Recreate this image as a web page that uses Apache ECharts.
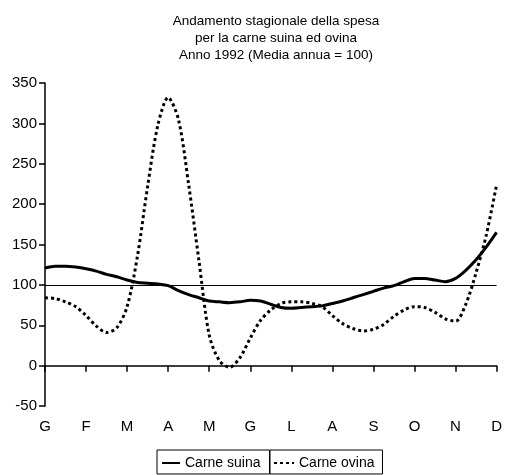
<!DOCTYPE html>
<html><head><meta charset="utf-8">
<script src="https://cdn.jsdelivr.net/npm/echarts@6/dist/echarts.min.js"></script>
<style>html,body{margin:0;padding:0;background:#fff}#c{width:505px;height:475px}</style>
</head><body><div id="c"></div>
<script>
const months = ['G','F','M','A','M','G','L','A','S','O','N','D'];
// positions in months (quarter-month resolution)
const xPos = [0,0.25,0.5,0.75,1,1.25,1.5,1.75,2,2.25,2.5,2.75,3,3.25,3.5,3.75,4,4.25,4.5,4.75,5,5.25,5.5,5.75,6,6.25,6.5,6.75,7,7.25,7.5,7.75,8,8.25,8.5,8.75,9,9.25,9.5,9.75,10,10.25,10.5,10.75,11];
const suina = [121,123,123,122,120,117,113,110,106,103,102,101,99,93,88,84,80,79,78,79,81,80,76,72,71,72,73,74,77,80,84,88,92,96,99,104,108,108,106,104,108,118,131,147,165];
const ovina = [84,83,79,73,62,49,41,47,73,135,222,298,332,305,224,130,38,6,-2,10,34,56,69,77,79,79,77,73,62,52,46,43,45,51,61,69,73,72,66,58,55,76,115,162,224];
const yTicks = {min:-50, max:350, interval:50};
const refValue = 100;

const chart = echarts.init(document.getElementById('c'));
const F = 'Liberation Sans, Arial, sans-serif';
const legendCommon = {top:450, itemGap:0, borderColor:'#000', borderWidth:1, itemHeight:10,
  itemStyle:{opacity:0},
  textStyle:{fontFamily:F, fontSize:14, color:'#000'}};
chart.setOption({
  animation:false,
  title:{
    text:'Andamento stagionale della spesa\nper la carne suina ed ovina\nAnno 1992 (Media annua = 100)',
    left:271, top:8, textAlign:'center',
    textStyle:{fontFamily:F, fontSize:13.5, fontWeight:'normal', color:'#000', lineHeight:17}
  },
  grid:{left:45, right:7, top:83, bottom:69},
  legend:[
    Object.assign({data:['Carne suina'], left:157, padding:[6,9,4,4], itemWidth:18}, legendCommon),
    Object.assign({data:['Carne ovina'], left:270, padding:[6,8,4,3], itemWidth:20}, legendCommon)
  ],
  xAxis:{
    type:'value', min:0, max:11, interval:1,
    axisLine:{lineStyle:{color:'#000', width:1.5}},
    axisTick:{show:true, length:6, lineStyle:{color:'#000', width:1.5}},
    axisLabel:{fontFamily:F, fontSize:15, color:'#000', margin:13,
      formatter:v=>months[Math.round(v)]},
    splitLine:{show:false}
  },
  yAxis:{
    type:'value', min:yTicks.min, max:yTicks.max, interval:yTicks.interval,
    axisLine:{show:true, lineStyle:{color:'#000', width:1.5}},
    axisTick:{show:true, length:6, lineStyle:{color:'#000', width:1.5}},
    axisLabel:{fontFamily:F, fontSize:15, color:'#000', margin:8},
    splitLine:{show:false}
  },
  series:[
    {name:'Carne suina', type:'line', smooth:0.3, symbol:'none',
     data:xPos.map((x,i)=>[x,suina[i]]),
     lineStyle:{color:'#000', width:3},
     itemStyle:{color:'#000'},
     markLine:{silent:true, symbol:'none', label:{show:false},
       lineStyle:{color:'#000', width:1, type:'solid'},
       data:[{yAxis:refValue}]}
    },
    {name:'Carne ovina', type:'line', smooth:0.3, symbol:'none',
     data:xPos.map((x,i)=>[x,ovina[i]]),
     lineStyle:{color:'#000', width:3, type:[3,3]},
     itemStyle:{color:'#000'}
    }
  ]
});
</script></body></html>
